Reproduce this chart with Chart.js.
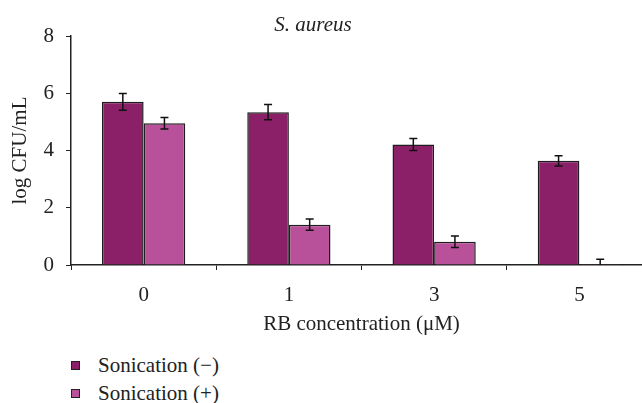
<!DOCTYPE html>
<html>
<head>
<meta charset="utf-8">
<script src="https://cdn.jsdelivr.net/npm/chart.js@4"></script>
<style>
  html, body { margin: 0; padding: 0; background: #fff; overflow: hidden; }
  #wrap { position: relative; width: 642px; height: 403px; overflow: hidden; }
  #box { position: absolute; left: 0; top: 0; width: 652px; height: 340px; }
  #legend { position: absolute; left: 71px; top: 351px; font: 21px "Liberation Serif", serif; color: #222; }
  #legend div { height: 28px; line-height: 28px; }
  #legend span.sw { display: inline-block; width: 7px; height: 7px; border: 1px solid #222; margin-right: 18px; vertical-align: 2px; }
</style>
</head>
<body>
<div id="wrap">
  <div id="box"><canvas id="myChart" width="652" height="340"></canvas></div>
  <div id="legend"></div>
</div>
<script>
// Данные
const categories = ["0", "1", "3", "5"];
const sonicationMinus = [5.70, 5.34, 4.21, 3.64];
const sonicationMinusErr = [0.29, 0.27, 0.21, 0.18];
const sonicationPlus = [4.95, 1.41, 0.81, 0.03];
const sonicationPlusErr = [0.20, 0.20, 0.20, 0.17];
const yTicks = [0, 2, 4, 6, 8];

const serif = '"Liberation Serif", "Times New Roman", serif';
Chart.defaults.font.family = serif;
Chart.defaults.font.size = 21;
Chart.defaults.color = '#222';

// Планки погрешностей
const errorBars = {
    id: 'errorBars',
    afterDatasetsDraw(chart) {
        const c = chart.ctx;
        const y = chart.scales.y;
        c.save();
        c.strokeStyle = '#111';
        c.lineWidth = 1.5;
        chart.data.datasets.forEach((ds, i) => {
            const meta = chart.getDatasetMeta(i);
            meta.data.forEach((bar, j) => {
                const v = ds.data[j], e = ds.errors[j];
                const top = y.getPixelForValue(v + e);
                const bot = y.getPixelForValue(Math.max(v - e, 0));
                c.beginPath();
                c.moveTo(bar.x, top); c.lineTo(bar.x, bot);
                c.moveTo(bar.x - 4, top); c.lineTo(bar.x + 4, top);
                if (v - e > 0) { c.moveTo(bar.x - 4, bot); c.lineTo(bar.x + 4, bot); }
                c.stroke();
            });
        });
        c.restore();
    }
};

// Заголовок
const titleText = {
    id: 'titleText',
    afterDraw(chart) {
        const c = chart.ctx;
        c.save();
        c.font = 'italic 21px ' + serif;
        c.fillStyle = '#222';
        c.textAlign = 'center';
        c.textBaseline = 'middle';
        c.fillText('S. aureus', 313, 25);
        c.restore();
    }
};

let ctx = document.getElementById('myChart').getContext('2d');
let chart = new Chart(ctx, {
    type: 'bar',
    data: {
        labels: categories,
        datasets: [{
            label: 'Sonication (−)',
            backgroundColor: '#8b2068',
            borderColor: '#1e1e1e',
            borderWidth: 1.5,
            data: sonicationMinus,
            errors: sonicationMinusErr
        }, {
            label: 'Sonication (+)',
            backgroundColor: '#b8519a',
            borderColor: '#1e1e1e',
            borderWidth: 1.5,
            data: sonicationPlus,
            errors: sonicationPlusErr
        }]
    },
    options: {
        responsive: false,
        animation: false,
        layout: { padding: { top: 36, right: 0, left: 0, bottom: 0 } },
        plugins: { legend: { display: false }, tooltip: { enabled: false } },
        datasets: { bar: { categoryPercentage: 0.573, barPercentage: 1 } },
        scales: {
            x: {
                afterFit(s) { s.height = 75; },
                grid: { offset: true, drawOnChartArea: false, tickLength: 5, color: '#222', tickColor: '#222' },
                border: { color: '#222', width: 1.5 },
                ticks: { padding: 13 },
                title: { display: true, text: 'RB concentration (μM)', padding: { top: 0, bottom: 3 } }
            },
            y: {
                min: 0, max: 8,
                afterFit(s) { s.width = 71; },
                afterBuildTicks(s) { s.ticks = yTicks.map(v => ({ value: v })); },
                grid: { drawOnChartArea: false, tickLength: 5, color: '#222', tickColor: '#222' },
                border: { color: '#222', width: 1.5 },
                ticks: { padding: 12 },
                title: { display: true, text: 'log CFU/mL', padding: { top: 8, bottom: 0 } }
            }
        }
    },
    plugins: [errorBars, titleText]
});

// Легенда
let legend = document.getElementById('legend');
chart.data.datasets.forEach(ds => {
    let row = document.createElement('div');
    row.innerHTML = '<span class="sw" style="background:' + ds.backgroundColor + '"></span>' + ds.label;
    legend.appendChild(row);
});
</script>
</body>
</html>
